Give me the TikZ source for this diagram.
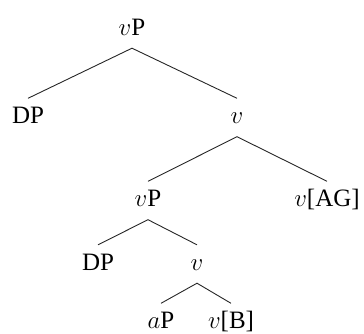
\documentclass[tikz,border=0pt]{standalone}
\usepackage{fontspec}
\setmainfont{Liberation Serif}
\begin{document}
\begin{tikzpicture}[x=1pt,y=-1pt,
  cat/.style={anchor=base,font=\fontsize{25}{28}\selectfont,
    text height=17pt,text depth=5pt,inner xsep=0pt,inner ysep=8pt},
  branch/.style={line width=0.9pt,draw=black!85}]
  \useasboundingbox (0,0) rectangle (364,333);
  % categories, placed by their baselines
  \node[cat] (vP0) at (132,35)    {$v$P};
  \node[cat] (DP1) at (28,123.5)  {DP};
  \node[cat] (v1)  at (237,123.5) {$v$};
  \node[cat] (vP2) at (148,206.5) {$v$P};
  \node[cat] (vAG) at (327,206.5) {$v$[AG]};
  \node[cat] (DP3) at (98,270)    {DP};
  \node[cat] (v3)  at (197,270)   {$v$};
  \node[cat] (aP)  at (161,328.5) {$a$P};
  \node[cat] (vB)  at (231,328.5) {$v$[B]};
  % branches
  \draw[branch] (DP1.north) -- (vP0.south) -- (v1.north);
  \draw[branch] (vP2.north) -- (v1.south) -- (vAG.north);
  \draw[branch] (DP3.north) -- (vP2.south) -- (v3.north);
  \draw[branch] (aP.north) -- (v3.south) -- (vB.north);
\end{tikzpicture}
\end{document}
